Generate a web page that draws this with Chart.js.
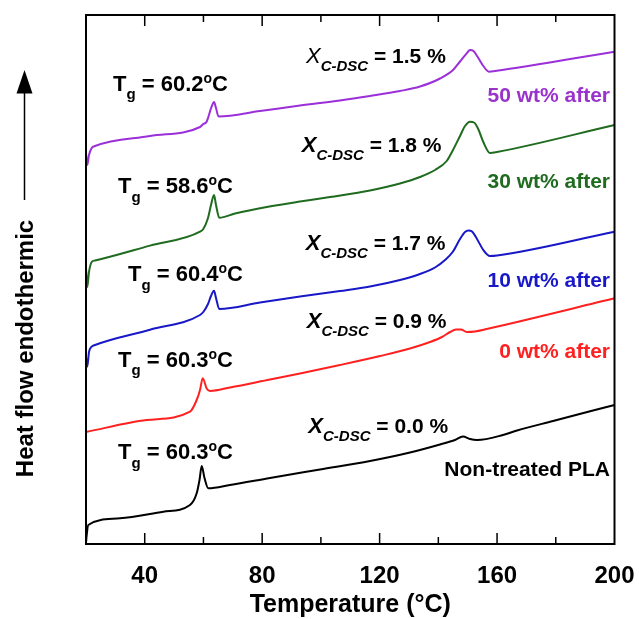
<!DOCTYPE html>
<html><head><meta charset="utf-8">
<script src="https://cdn.jsdelivr.net/npm/chart.js@4.4.1/dist/chart.umd.min.js"></script>
<style>html,body{margin:0;padding:0;background:#fff}canvas{display:block}</style>
</head><body>
<canvas id="c" width="639" height="619"></canvas>
<script>
const FONT = '"Liberation Sans", Arial, Helvetica, sans-serif';

// ---- data (temperature in °C, heat flow in arbitrary stacked units) ----
const purpleT = [20.0, 20.44, 21.02, 21.94, 23.07, 41.80, 58.83, 59.95, 61.08, 62.78, 63.60, 64.28, 65.13, 79.26, 92.89, 106.51, 116.73, 126.95, 133.76, 140.57, 145.00, 147.38, 149.66, 150.79, 151.98, 153.61, 155.32, 157.26, 159.30, 200];
const purpleV = [39.1, 37.9, 38.9, 39.6, 39.8, 40.8, 41.7, 42.0, 42.23, 43.73, 44.2, 43.6, 42.75, 43.3, 43.85, 44.35, 44.8, 45.3, 45.75, 46.55, 47.4, 48.25, 49.07, 49.4, 49.3, 48.6, 47.8, 47.23, 47.3, 49.23];

const greenT = [20.0, 20.44, 21.02, 21.94, 23.07, 41.80, 58.83, 59.95, 61.55, 62.57, 63.60, 64.28, 65.40, 70.75, 81.55, 92.89, 103.11, 116.73, 126.95, 133.76, 138.87, 142.85, 145.00, 147.38, 149.09, 150.79, 152.15, 153.51, 155.32, 157.60, 159.99, 200];
const greenV = [27.6, 25.7, 27.2, 28.2, 28.35, 29.84, 31.23, 31.5, 32.6, 33.9, 34.9, 33.9, 32.63, 33.05, 33.7, 34.25, 34.7, 35.35, 36.05, 36.7, 37.4, 38.3, 39.4, 40.8, 41.8, 42.23, 42.15, 41.55, 40.2, 39.1, 39.2, 41.9];

const blueT = [20.0, 20.44, 21.02, 21.94, 23.07, 41.80, 58.83, 59.95, 61.55, 62.57, 63.60, 64.28, 65.40, 79.26, 92.89, 106.51, 116.73, 126.95, 133.76, 138.87, 142.28, 145.00, 147.38, 149.09, 150.28, 151.47, 153.17, 155.32, 157.60, 159.99, 200];
const blueV = [18.7, 17.73, 19.2, 19.73, 19.9, 21.43, 22.9, 23.2, 24.0, 24.8, 25.33, 24.6, 23.5, 24.15, 24.75, 25.3, 25.75, 26.4, 27.0, 27.65, 28.4, 29.25, 30.5, 31.2, 31.35, 31.25, 30.5, 29.4, 28.8, 28.85, 31.23];

const redT = [20.0, 40.67, 55.42, 57.70, 58.83, 59.75, 61.11, 62.23, 69.05, 82.67, 92.89, 106.51, 120.14, 130.35, 137.17, 141.25, 143.98, 146.02, 147.72, 149.66, 152.49, 156.47, 200];
const redV = [11.2, 12.4, 13.23, 14.4, 15.4, 16.57, 15.55, 15.3, 15.65, 16.45, 17.05, 17.9, 18.8, 19.55, 20.2, 20.7, 21.2, 21.45, 21.45, 21.2, 21.25, 21.5, 24.57];

const blackT = [20.0, 20.24, 20.78, 31.58, 46.33, 55.42, 57.70, 58.66, 59.41, 60.36, 61.66, 69.05, 82.67, 99.70, 116.73, 130.35, 140.57, 145.68, 148.40, 150.79, 153.17, 162.03, 166.80, 179.06, 200];
const blackV = [0.1, 0.9, 1.9, 2.57, 3.23, 3.9, 5.07, 6.4, 7.8, 6.6, 5.57, 5.9, 6.6, 7.45, 8.3, 9.15, 9.95, 10.4, 10.75, 10.5, 10.4, 10.9, 11.35, 12.3, 13.9];

const seriesNames = ['50 wt% after', '30 wt% after', '10 wt% after', '0 wt% after', 'Non-treated PLA'];
const tgValues = ['60.2', '58.6', '60.4', '60.3', '60.3'];
const xcValues = ['1.5', '1.8', '1.7', '0.9', '0.0'];
const xTickLabels = [40, 80, 120, 160, 200];

// ---- styling / layout (not data) ----
const seriesColors = ['#9b30d9', '#1f6b1f', '#1818c8', '#ff2020', '#000000'];
const nameColors = ['#9933cc', '#1f6b1f', '#1818c8', '#ff2020', '#000000'];
const tgAnchor = [[29.2, 45.33], [30.9, 35.1], [34.31, 26.3], [30.9, 17.73], [30.9, 8.5]];
const xcAnchor = [[94.93, 48.07], [93.47, 39.23], [94.83, 29.4], [95.17, 21.57], [95.72, 11.07]];
const nameAnchor = [[198.47, 44.23], [198.47, 35.57], [198.47, 25.73], [198.47, 18.57], [198.47, 6.8]];

const mk = (T, V) => T.map((t, i) => ({x: t, y: V[i]}));
const seriesData = [mk(purpleT, purpleV), mk(greenT, greenV), mk(blueT, blueV), mk(redT, redV), mk(blackT, blackV)];

function drawRich(ctx, x, y, segs, align) {
  let w = 0;
  segs.forEach(s => { ctx.font = s.font; w += ctx.measureText(s.t).width; });
  if (align === 'right') x -= w;
  ctx.textAlign = 'left';
  ctx.textBaseline = 'alphabetic';
  segs.forEach(s => {
    ctx.font = s.font;
    ctx.fillStyle = s.color || '#000';
    ctx.fillText(s.t, x, y + (s.dy || 0));
    x += ctx.measureText(s.t).width;
  });
}

const decor = {
  id: 'decor',
  afterDatasetsDraw(chart) {
    const {ctx, chartArea: a, scales: {x, y}} = chart;
    ctx.save();
    // frame
    ctx.strokeStyle = '#000';
    ctx.lineWidth = 2;
    ctx.strokeRect(a.left, a.top, a.right - a.left, a.bottom - a.top);
    // inward ticks (top & bottom)
    ctx.lineWidth = 1.5;
    x.ticks.forEach(t => {
      const v = t.value;
      if (v <= x.min || v >= x.max) return;
      const px = x.getPixelForValue(v);
      const L = xTickLabels.includes(v) ? 11 : 7;
      ctx.beginPath();
      ctx.moveTo(px, a.bottom); ctx.lineTo(px, a.bottom - L);
      ctx.moveTo(px, a.top); ctx.lineTo(px, a.top + L);
      ctx.stroke();
    });
    // annotations
    const main = 'bold 22px ' + FONT;
    const sub = 'bold 15px ' + FONT;
    const sup = 'bold 14px ' + FONT;
    for (let i = 0; i < 5; i++) {
      const [tx, ty] = tgAnchor[i];
      drawRich(ctx, x.getPixelForValue(tx), y.getPixelForValue(ty), [
        {t: 'T', font: main},
        {t: 'g', font: sub, dy: 8.5},
        {t: ' = ' + tgValues[i], font: main},
        {t: 'o', font: sup, dy: -8},
        {t: 'C', font: main}
      ]);
      const [cx, cy] = xcAnchor[i];
      drawRich(ctx, x.getPixelForValue(cx), y.getPixelForValue(cy), [
        {t: 'X', font: (i === 0 ? 'italic 22px ' : 'italic bold 22px ') + FONT},
        {t: 'C-DSC', font: 'italic bold 15px ' + FONT, dy: 8},
        {t: ' = ' + xcValues[i] + ' %', font: 'bold 21px ' + FONT}
      ]);
      const [nx, ny] = nameAnchor[i];
      drawRich(ctx, x.getPixelForValue(nx), y.getPixelForValue(ny), [
        {t: seriesNames[i], font: 'bold 21px ' + FONT, color: nameColors[i]}
      ], 'right');
    }
    // y-axis label with arrow
    ctx.save();
    ctx.translate(33, 348.5);
    ctx.rotate(-Math.PI / 2);
    ctx.font = 'bold 24px ' + FONT;
    ctx.fillStyle = '#000';
    ctx.textAlign = 'center';
    ctx.textBaseline = 'alphabetic';
    ctx.fillText('Heat flow endothermic', 0, 0);
    ctx.restore();
    ctx.strokeStyle = '#000';
    ctx.lineWidth = 1.5;
    ctx.beginPath();
    ctx.moveTo(24.5, 200); ctx.lineTo(24.5, 90);
    ctx.stroke();
    ctx.fillStyle = '#000';
    ctx.beginPath();
    ctx.moveTo(24.5, 70); ctx.lineTo(32.5, 93.5); ctx.lineTo(16.5, 93.5); ctx.closePath();
    ctx.fill();
    ctx.restore();
  }
};

new Chart(document.getElementById('c'), {
  type: 'line',
  data: {
    datasets: seriesData.map((d, i) => ({
      label: seriesNames[i],
      data: d,
      borderColor: seriesColors[i],
      borderWidth: 2,
      pointRadius: 0,
      fill: false,
      cubicInterpolationMode: 'monotone'
    }))
  },
  options: {
    responsive: false,
    animation: false,
    devicePixelRatio: 1,
    layout: {padding: {left: 86, top: 15, right: 24.5, bottom: 0}},
    plugins: {legend: {display: false}, tooltip: {enabled: false}},
    scales: {
      x: {
        type: 'linear',
        min: 20, max: 200,
        grid: {display: false, drawTicks: false},
        border: {display: false},
        ticks: {
          stepSize: 20,
          autoSkip: false,
          maxRotation: 0,
          padding: 18,
          color: '#000',
          font: {family: FONT, size: 24, weight: 'bold'},
          callback: v => xTickLabels.includes(v) ? String(v) : ''
        },
        title: {
          display: true,
          text: 'Temperature (°C)',
          color: '#000',
          font: {family: FONT, size: 25, weight: 'bold', lineHeight: 1.1},
          padding: {top: 0, bottom: 0}
        },
        afterFit: s => { s.height = 75; s.paddingLeft = 0; s.paddingRight = 0; }
      },
      y: {
        display: false,
        min: 0, max: 52.9
      }
    }
  },
  plugins: [decor]
});
</script>
</body></html>
